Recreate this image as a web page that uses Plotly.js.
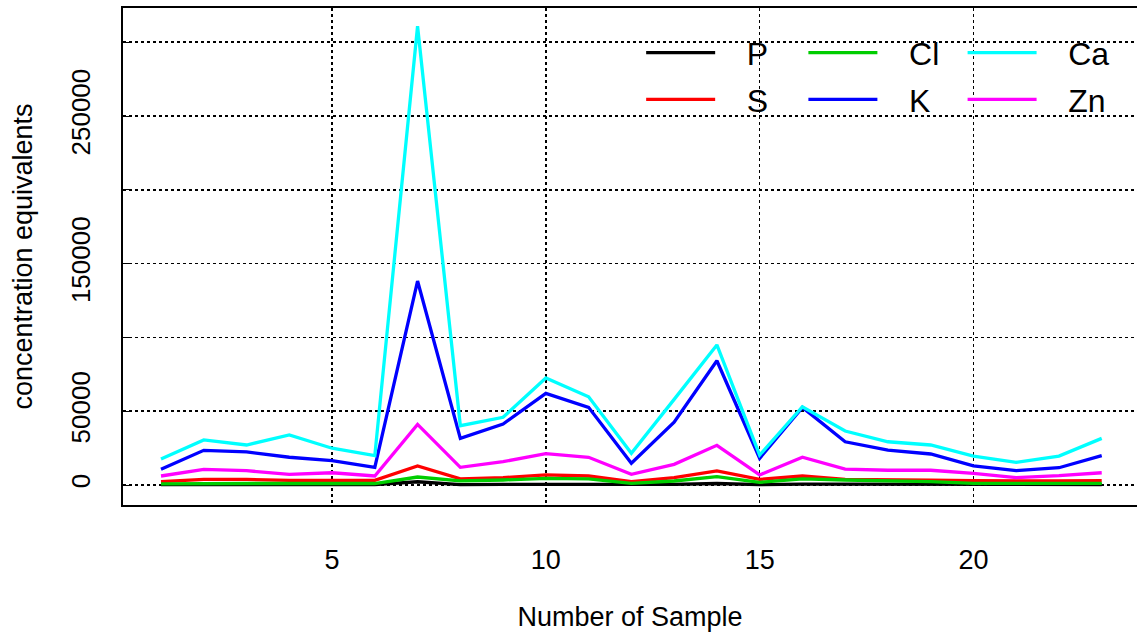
<!DOCTYPE html>
<html>
<head>
<meta charset="utf-8">
<script src="https://cdn.plot.ly/plotly-3.0.1.min.js"></script>
<style>html,body{margin:0;padding:0;background:#fff;}#chart{width:1137px;height:632px;}</style>
</head>
<body>
<div id="chart"></div>
<script>
const samples = [1,2,3,4,5,6,7,8,9,10,11,12,13,14,15,16,17,18,19,20,21,22,23];
const P  = [200, 300, 300, 300, 300, 300, 2200, 300, 400, 500, 500, 200, 400, 1000, 300, 600, 500, 400, 300, 200, 200, 200, 300];
const S  = [2300, 3800, 3800, 3200, 3200, 3200, 12900, 4100, 5000, 6800, 6100, 2300, 5000, 9500, 3800, 6100, 3800, 3800, 3300, 2900, 2700, 2700, 3000];
const Cl = [700, 1000, 1000, 1000, 1000, 1000, 5400, 2800, 3400, 4500, 4100, 1100, 2700, 5600, 1800, 4100, 3400, 2900, 2300, 1100, 1000, 1000, 1100];
const K  = [10600, 23500, 22400, 18800, 16500, 12000, 138200, 31600, 41300, 62100, 52600, 14700, 42500, 84200, 18100, 52600, 29300, 23700, 21000, 12900, 9700, 11700, 19900];
const Ca = [17600, 30500, 27100, 33900, 24900, 19900, 310800, 40200, 45900, 72500, 59800, 21500, 58000, 94900, 20300, 53000, 36600, 29300, 27100, 19600, 15400, 19600, 31600];
const Zn = [6100, 10600, 9700, 7200, 8300, 6100, 41100, 12000, 15800, 21200, 18800, 7200, 14000, 26900, 6800, 18800, 10800, 10000, 10000, 7900, 5000, 6300, 8300];

const seriesNames = ['P','S','Cl','K','Ca','Zn'];
const seriesData = [P, S, Cl, K, Ca, Zn];
const seriesColors = ['#000000','#ff0000','#00cd00','#0000ff','#00ffff','#ff00ff'];
const seriesLegend = ['legend','legend','legend2','legend2','legend3','legend3'];

const yTickVals = [0, 50000, 100000, 150000, 200000, 250000, 300000];
const yTickText = ['0', '50000', '', '150000', '', '250000', ''];
const xTickVals = [5, 10, 15, 20];

const pad = '\u00a0\u00a0\u00a0';
const traces = seriesNames.map((n, i) => ({
  x: samples, y: seriesData[i], type: 'scatter', mode: 'lines', name: pad + n,
  line: {color: seriesColors[i], width: 3.3},
  legend: seriesLegend[i], legendgroup: n
}));

const legendBase = {
  bgcolor: 'rgba(0,0,0,0)', borderwidth: 0,
  font: {family: 'Liberation Sans, Arial, sans-serif', size: 32, color: '#000'},
  xanchor: 'left', yanchor: 'top', y: 0.965, tracegroupgap: 2, itemwidth: 69,
  orientation: 'v'
};

const layout = {
  width: 1137, height: 632,
  margin: {l: 123, r: 0, t: 8, b: 127},
  paper_bgcolor: '#fff', plot_bgcolor: '#fff',
  font: {family: 'Liberation Sans, Arial, sans-serif', color: '#000', size: 27},
  showlegend: true,
  legend: Object.assign({}, legendBase, {x: 0.511}),
  legend2: Object.assign({}, legendBase, {x: 0.671}),
  legend3: Object.assign({}, legendBase, {x: 0.828}),
  xaxis: {
    range: [0.111, 23.825], tickvals: xTickVals, ticks: '',
    ticklabelstandoff: 30,
    showgrid: true, gridcolor: '#000', gridwidth: 1.5, griddash: 'dot',
    zeroline: false, showline: true, linecolor: '#000', linewidth: 2, mirror: true,
    title: {text: 'Number of Sample', font: {size: 27}, standoff: 34},
    tickfont: {size: 27}
  },
  yaxis: {
    range: [-13550, 323170], tickvals: yTickVals, ticktext: yTickText,
    ticks: 'inside', ticklen: 7, tickcolor: '#000', tickangle: -90,
    ticklabelstandoff: 21,
    showgrid: true, gridcolor: '#000', gridwidth: 1.5, griddash: 'dot',
    zeroline: false, showline: true, linecolor: '#000', linewidth: 2, mirror: false,
    title: {text: 'concentration equivalents', font: {size: 27}, standoff: 25},
    tickfont: {size: 26}
  }
};

Plotly.newPlot('chart', traces, layout, {displayModeBar: false, staticPlot: true});
</script>
</body>
</html>
